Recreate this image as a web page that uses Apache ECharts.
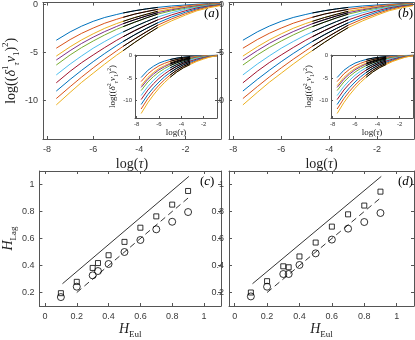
<!DOCTYPE html>
<html>
<head>
<meta charset="utf-8">
<script src="https://cdn.jsdelivr.net/npm/echarts@6/dist/echarts.min.js"></script>
<style>
  html, body { margin: 0; padding: 0; background: #fff; }
  #chart { width: 415px; height: 340px; }
</style>
</head>
<body>
<div id="chart"></div>
<script>
// matlab default colour order, 10 curves
var curveColors = ['#0072BD', '#D95319', '#EDB120', '#7E2F8E', '#77AC30', '#4DBEEE', '#A2142F', '#0072BD', '#D95319', '#EDB120'];

// main panels: log(tau) and log(<(d1 v1)^2>) for each curve
var logTau = [-7.6, -7, -6.5, -6, -5.5, -5, -4.7, -4.2, -3.7, -3.2, -2.6, -2, -1.5, -1, -0.5];
var logS1 = [
  [-3.72, -2.85, -2.25, -1.75, -1.35, -1.05, -0.88, -0.65, -0.46, -0.3, -0.15, -0.05, 0.03, 0.1, 0.15],
  [-4.55, -3.65, -3.0, -2.45, -1.95, -1.55, -1.33, -1.0, -0.74, -0.5, -0.3, -0.15, -0.03, 0.05, 0.1],
  [-5.37, -4.4, -3.68, -3.05, -2.48, -2.0, -1.75, -1.36, -1.02, -0.7, -0.45, -0.25, -0.1, 0.0, 0.08],
  [-5.78, -4.8, -4.05, -3.4, -2.82, -2.3, -2.0, -1.58, -1.2, -0.85, -0.55, -0.3, -0.13, -0.02, 0.05],
  [-6.3, -5.25, -4.48, -3.8, -3.17, -2.6, -2.3, -1.84, -1.4, -1.0, -0.65, -0.4, -0.2, -0.05, 0.03],
  [-7.33, -6.2, -5.35, -4.55, -3.85, -3.2, -2.85, -2.3, -1.78, -1.3, -0.85, -0.5, -0.27, -0.1, 0.0],
  [-8.15, -6.95, -6.05, -5.25, -4.48, -3.75, -3.35, -2.72, -2.14, -1.6, -1.08, -0.65, -0.35, -0.15, -0.02],
  [-9.01, -7.8, -6.85, -5.95, -5.1, -4.3, -3.85, -3.15, -2.5, -1.9, -1.3, -0.8, -0.45, -0.2, -0.05],
  [-9.79, -8.55, -7.55, -6.6, -5.7, -4.85, -4.35, -3.58, -2.85, -2.15, -1.5, -0.95, -0.55, -0.25, -0.08],
  [-10.45, -9.15, -8.1, -7.15, -6.2, -5.3, -4.8, -3.95, -3.15, -2.4, -1.7, -1.1, -0.65, -0.35, -0.12]
];
var blackFrom = -4.7, blackTo = -3.2;

// insets: log(<(d2 v1)^2>)
var logTauIn = [-7.6, -7, -6.5, -6, -5.5, -5, -4.4, -3.8, -3.2, -2.6, -2, -1.5, -1, -0.8];
var logS2 = [
  [-4.9, -3.3, -2.4, -1.7, -1.25, -0.9, -0.6, -0.4, -0.25, -0.13, -0.05, 0.0, 0.05, 0.08],
  [-5.8, -4.1, -3.1, -2.3, -1.75, -1.3, -0.9, -0.6, -0.4, -0.22, -0.1, -0.03, 0.0, 0.05],
  [-6.7, -4.9, -3.8, -2.9, -2.25, -1.7, -1.2, -0.82, -0.55, -0.32, -0.15, -0.06, 0.0, 0.03],
  [-7.1, -5.3, -4.15, -3.2, -2.5, -1.9, -1.37, -0.95, -0.65, -0.38, -0.2, -0.08, 0.0, 0.02],
  [-7.8, -5.9, -4.7, -3.7, -2.9, -2.25, -1.63, -1.13, -0.8, -0.47, -0.25, -0.1, -0.02, 0.0],
  [-8.9, -6.9, -5.55, -4.4, -3.5, -2.75, -2.02, -1.42, -1.0, -0.62, -0.35, -0.15, -0.05, -0.02],
  [-9.8, -7.7, -6.3, -5.1, -4.1, -3.25, -2.4, -1.72, -1.25, -0.8, -0.45, -0.22, -0.08, -0.04],
  [-10.9, -8.7, -7.2, -5.9, -4.75, -3.8, -2.83, -2.05, -1.5, -0.98, -0.55, -0.28, -0.1, -0.06],
  [-11.9, -9.6, -8.0, -6.6, -5.4, -4.35, -3.27, -2.4, -1.75, -1.15, -0.65, -0.33, -0.12, -0.08],
  [-12.9, -10.5, -8.8, -7.3, -6.0, -4.85, -3.67, -2.72, -2.0, -1.32, -0.8, -0.4, -0.15, -0.1]
];
var blackFromIn = -5, blackToIn = -3.2;

// bottom panels: H_Lag against H_Eul
var hEul = [0.1, 0.2, 0.3, 1 / 3, 0.4, 0.5, 0.6, 0.7, 0.8, 0.9];
var hLagSquareC = [0.195, 0.279, 0.382, 0.418, 0.476, 0.575, 0.68, 0.764, 0.851, 0.952];
var hLagCircleC = [0.166, 0.243, 0.327, 0.359, 0.411, 0.5, 0.589, 0.668, 0.724, 0.796];
var hLagSquareD = [0.2, 0.284, 0.394, 0.387, 0.467, 0.57, 0.688, 0.779, 0.844, 0.947];
var hLagCircleD = [0.171, 0.243, 0.337, 0.337, 0.404, 0.49, 0.592, 0.673, 0.722, 0.789];
var solidRef = [[0.11, 0.265], [0.905, 1.06]];
var dashRef = [[0.2, 0.2], [0.9, 0.9]];

var tauTicks = [-8, -6, -4, -2];
var sTicks = [0, -5, -10];
var hTicksX = [0, 0.2, 0.4, 0.6, 0.8, 1];
var hTicksY = [0.2, 0.4, 0.6, 0.8, 1];

var serif = 'Liberation Serif';
var sans = 'Liberation Sans';
var axisCol = '#555';
var txtCol = '#222';

function rich(fs) {
  var lh = Math.round(fs * 1.4);
  var small = Math.round(fs * 0.65);
  return {
    n: {fontFamily: serif, fontSize: fs, lineHeight: lh, color: txtCol},
    i: {fontFamily: serif, fontSize: fs, fontStyle: 'italic', lineHeight: lh, color: txtCol},
    sup: {fontFamily: serif, fontSize: small, lineHeight: small + 1, verticalAlign: 'top', color: txtCol},
    sub: {fontFamily: serif, fontSize: small, lineHeight: small + 1, verticalAlign: 'bottom', color: txtCol},
    subi: {fontFamily: serif, fontSize: small, fontStyle: 'italic', lineHeight: small + 1, verticalAlign: 'bottom', color: txtCol}
  };
}

function fmt(v) { return String(Math.round(v * 10) / 10); }

var grids = [
  {left: 36, top: 1, width: 185, height: 138},
  {left: 229, top: 1, width: 185, height: 138},
  {left: 36, top: 171, width: 185, height: 138},
  {left: 229, top: 171, width: 185, height: 138},
  {left: 135, top: 55, width: 82, height: 63, z: 10, show: true, backgroundColor: '#fff', borderWidth: 0},
  {left: 331, top: 55, width: 82, height: 63, z: 10, show: true, backgroundColor: '#fff', borderWidth: 0}
];

// axis setup per grid
var axSpec = [
  {x: [-8.18, -0.46], y: [-14, 0.2], xt: tauTicks, yt: sTicks, fs: 9, xname: '{n|log(}{i|τ}{n|)}', yname: '{n|log((}{i|δ}{sup|1}{subi|τ}{i|v}{sub|1}{n|)}{sup|2}{n|)}', nfs: 14, xgap: 15, ygap: 17},
  {x: [-8.18, -0.46], y: [-14, 0.2], xt: tauTicks, yt: sTicks, fs: 9, xname: '{n|log(}{i|τ}{n|)}', yname: '', nfs: 14, xgap: 15, ygap: 17},
  {x: [-0.035, 1.107], y: [0.1, 1.1], xt: hTicksX, yt: hTicksY, fs: 9, xname: '{i|H}{sub|Eul}', yname: '{i|H}{sub|Lag}', nfs: 14, xgap: 13, ygap: 17},
  {x: [-0.035, 1.107], y: [0.1, 1.1], xt: hTicksX, yt: hTicksY, fs: 9, xname: '{i|H}{sub|Eul}', yname: '', nfs: 14, xgap: 13, ygap: 17},
  {x: [-8.15, -0.8], y: [-13.9, 0.1], xt: tauTicks, yt: sTicks, fs: 6, xname: '{n|log(}{i|τ}{n|)}', yname: '{n|log((}{i|δ}{sup|2}{subi|τ}{i|v}{sub|1}{n|)}{sup|2}{n|)}', nfs: 9, xgap: 6, ygap: 9, z: 11},
  {x: [-8.15, -0.8], y: [-13.9, 0.1], xt: tauTicks, yt: sTicks, fs: 6, xname: '{n|log(}{i|τ}{n|)}', yname: '{n|log((}{i|δ}{sup|2}{subi|τ}{i|v}{sub|1}{n|)}{sup|2}{n|)}', nfs: 9, xgap: 6, ygap: 9, z: 11}
];

var xAxes = [], yAxes = [];
axSpec.forEach(function (a, gi) {
  var z = a.z || 0;
  var tickLen = a.fs < 8 ? 2 : 3;
  ['bottom', 'top'].forEach(function (pos) {
    var main = pos === 'bottom';
    xAxes.push({
      type: 'value', gridIndex: gi, position: pos, min: a.x[0], max: a.x[1], z: z,
      axisLine: {show: true, onZero: false, lineStyle: {color: axisCol, width: 1}},
      axisTick: {show: true, inside: true, length: tickLen, customValues: a.xt, lineStyle: {color: axisCol}},
      axisLabel: {show: main, customValues: a.xt, formatter: fmt, margin: a.fs < 8 ? 3 : 6,
        fontFamily: sans, fontSize: a.fs, color: '#3a3a3a'},
      splitLine: {show: false},
      name: main ? a.xname : '', nameLocation: 'middle', nameGap: a.xgap,
      nameTextStyle: {rich: rich(a.nfs)}
    });
  });
  ['left', 'right'].forEach(function (pos) {
    var main = pos === 'left';
    yAxes.push({
      type: 'value', gridIndex: gi, position: pos, min: a.y[0], max: a.y[1], z: z,
      axisLine: {show: true, onZero: false, lineStyle: {color: axisCol, width: 1}},
      axisTick: {show: true, inside: true, length: tickLen, customValues: a.yt, lineStyle: {color: axisCol}},
      axisLabel: {show: main, customValues: a.yt, formatter: fmt, margin: a.fs < 8 ? 3 : 5,
        fontFamily: sans, fontSize: a.fs, color: '#3a3a3a'},
      splitLine: {show: false},
      name: main ? a.yname : '', nameLocation: 'middle', nameGap: a.ygap, nameRotate: 90,
      nameTextStyle: {rich: rich(a.nfs)}
    });
  });
});

var series = [];

function addCurves(gi, xs, ys, b0, b1, z) {
  ys.forEach(function (row, k) {
    var pts = xs.map(function (x, j) { return [x, row[j]]; });
    var common = {type: 'line', xAxisIndex: 2 * gi, yAxisIndex: 2 * gi, symbol: 'none',
      smooth: false, silent: true, z: z};
    series.push(Object.assign({}, common, {data: pts, lineStyle: {color: curveColors[k], width: 1}}));
    // black overlay on the fitting range
    series.push(Object.assign({}, common, {
      data: pts.filter(function (p) { return p[0] >= b0 - 1e-9 && p[0] <= b1 + 1e-9; }),
      lineStyle: {color: '#000', width: 1}, z: z + 1
    }));
  });
}

addCurves(0, logTau, logS1, blackFrom, blackTo, 2);
addCurves(1, logTau, logS1, blackFrom, blackTo, 2);
addCurves(4, logTauIn, logS2, blackFromIn, blackToIn, 12);
addCurves(5, logTauIn, logS2, blackFromIn, blackToIn, 12);

function addScatter(gi, sq, ci) {
  var ax = {xAxisIndex: 2 * gi, yAxisIndex: 2 * gi, silent: true};
  series.push(Object.assign({type: 'line', data: solidRef, symbol: 'none',
    lineStyle: {color: '#000', width: 0.8}}, ax));
  series.push(Object.assign({type: 'line', data: dashRef, symbol: 'none',
    lineStyle: {color: '#000', width: 0.8, type: [6, 4]}}, ax));
  series.push(Object.assign({type: 'scatter', symbol: 'rect', symbolSize: 5,
    data: hEul.map(function (x, j) { return [x, sq[j]]; }),
    itemStyle: {color: 'rgba(0,0,0,0)', borderColor: '#000', borderWidth: 1}}, ax));
  series.push(Object.assign({type: 'scatter', symbol: 'circle', symbolSize: 7,
    data: hEul.map(function (x, j) { return [x, ci[j]]; }),
    itemStyle: {color: 'rgba(0,0,0,0)', borderColor: '#000', borderWidth: 1}}, ax));
}

addScatter(2, hLagSquareC, hLagCircleC);
addScatter(3, hLagSquareD, hLagCircleD);

function panelLabel(letter, left, top) {
  return {type: 'text', left: left, top: top, z: 20,
    style: {text: '{n|(}{i|' + letter + '}{n|)}', rich: rich(13)}};
}

var chart = echarts.init(document.getElementById('chart'), null, {renderer: 'canvas'});
chart.setOption({
  animation: false,
  backgroundColor: '#fff',
  grid: grids,
  xAxis: xAxes,
  yAxis: yAxes,
  series: series,
  graphic: [
    panelLabel('a', 204, 7),
    panelLabel('b', 398, 7),
    panelLabel('c', 200, 175),
    panelLabel('d', 398, 175)
  ]
});
</script>
</body>
</html>
